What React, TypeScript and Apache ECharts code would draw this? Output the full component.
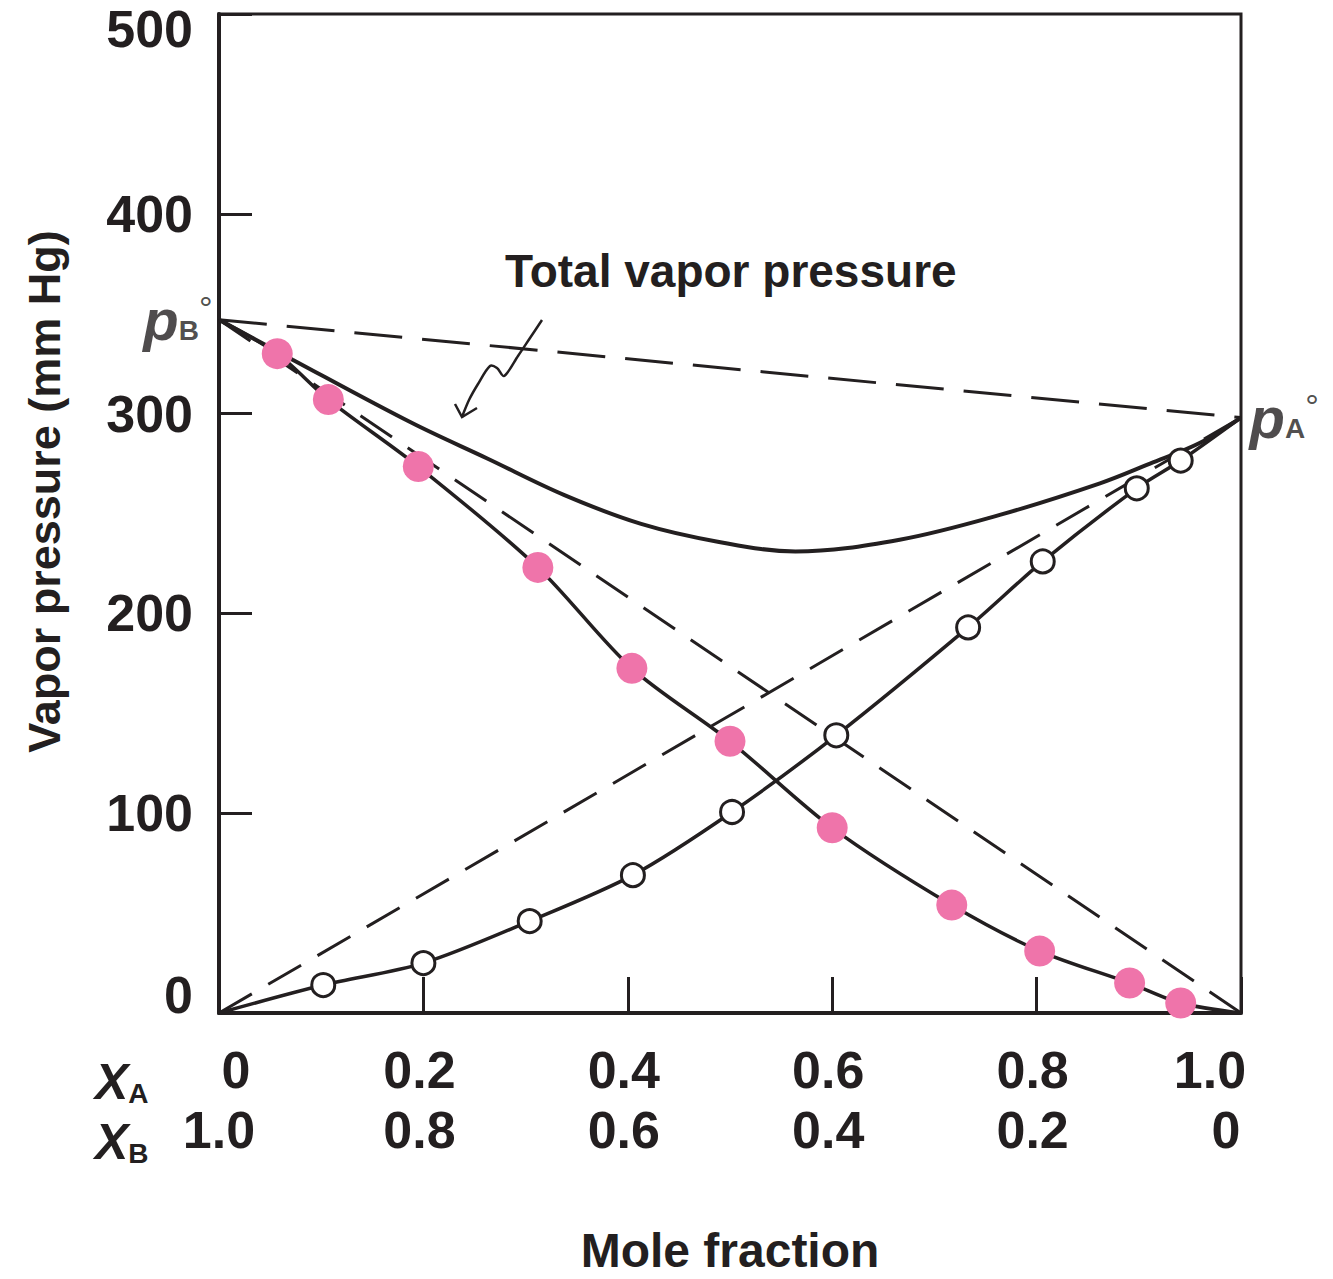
import React, { useEffect, useRef } from "react";
import * as echarts from "echarts";

// ---- data ----
const pBPure = 347; // vapor pressure of pure B (X_A = 0)
const pAPure = 298; // vapor pressure of pure A (X_A = 1)

const pinkX = [0.057, 0.107, 0.195, 0.312, 0.404, 0.5, 0.6, 0.717, 0.803, 0.891, 0.941];
const pinkY = [330, 307, 273.5, 223, 172.5, 136, 92.7, 54, 31, 15, 5];

const openX = [0.102, 0.2, 0.304, 0.405, 0.502, 0.604, 0.733, 0.806, 0.898, 0.941];
const openY = [14, 25, 46, 69, 100.6, 139, 193, 226, 262.6, 276.5];

const totalX = [0, 0.072, 0.188, 0.263, 0.338, 0.413, 0.488, 0.564, 0.666, 0.764, 0.862, 0.911, 0.96, 1];
const totalY = [347, 327, 295.5, 277.4, 259.2, 244.8, 235.9, 231, 236.9, 249.3, 265.1, 275, 285.4, 298];

const xTicks = [0, 0.2, 0.4, 0.6, 0.8, 1.0];
const xALabels = ["0", "0.2", "0.4", "0.6", "0.8", "1.0"];
const xBLabels = ["1.0", "0.8", "0.6", "0.4", "0.2", "0"];
const yTicks = [0, 100, 200, 300, 400, 500];
const yLabels = ["0", "100", "200", "300", "400", "500"];

const INK = "#231f20";
const PINK = "#ef74aa";
const FONT = "Liberation Sans, Arial, sans-serif";

function idx(arr: number[], v: number) {
  let best = 0;
  for (let i = 0; i < arr.length; i++) if (Math.abs(arr[i] - v) < Math.abs(arr[best] - v)) best = i;
  return best;
}

export default function App() {
  const ref = useRef<HTMLDivElement>(null);
  useEffect(() => {
    if (!ref.current) return;
    const chart = echarts.init(ref.current, null, { renderer: "svg" });

    const labelBase = { fontSize: 52, fontWeight: "bold" as const, color: INK, fontFamily: FONT };

    const pinkData = pinkX.map((x, i) => [x, pinkY[i]]);
    const openData = openX.map((x, i) => [x, openY[i]]);
    const pBCurve = [[0, pBPure], ...pinkData, [1, 0]];
    const pACurve = [[0, 0], ...openData, [1, pAPure]];
    const totalCurve = totalX.map((x, i) => [x, totalY[i]]);

    const pRich = {
      p: { fontSize: 58, fontStyle: "italic", fontWeight: "bold", color: INK, fontFamily: FONT },
      s: { fontSize: 28, fontWeight: "bold", color: INK, fontFamily: FONT, verticalAlign: "bottom", padding: [0, 0, 4, 0] },
      d: { fontSize: 34, color: INK, fontFamily: FONT, verticalAlign: "top" },
    };

    const option: any = {
      animation: false,
      backgroundColor: "#ffffff",
      grid: {
        left: 219,
        top: 14,
        width: 1022,
        height: 1009,
        show: true,
        borderColor: INK,
        borderWidth: 3,
        backgroundColor: "transparent",
      },
      xAxis: [
        {
          type: "value",
          min: 0,
          max: 1,
          interval: 0.2,
          position: "bottom",
          axisLine: { show: true, lineStyle: { color: INK, width: 4 } },
          axisTick: { show: true, inside: true, length: 36, lineStyle: { color: INK, width: 3 } },
          splitLine: { show: false },
          axisLabel: {
            show: true,
            interval: 0,
            showMinLabel: true,
            showMaxLabel: true,
            margin: 31,
            ...labelBase,
            formatter: (v: number) => {
              const i = idx(xTicks, v);
              if (i === 0) return "{first|" + xALabels[i] + "}";
              if (i === xTicks.length - 1) return "{last|" + xALabels[i] + "}";
              return "{n|" + xALabels[i] + "}";
            },
            rich: {
              n: { ...labelBase, padding: [0, 8, 0, 0] },
              first: { ...labelBase, padding: [0, 0, 0, 34] },
              last: { ...labelBase, padding: [0, 62, 0, 0] },
            },
          },
        },
        {
          type: "value",
          min: 0,
          max: 1,
          interval: 0.2,
          position: "bottom",
          offset: 60,
          axisLine: { show: false },
          axisTick: { show: false },
          splitLine: { show: false },
          name: "Mole fraction",
          nameLocation: "middle",
          nameGap: 153,
          nameTextStyle: { fontSize: 48, fontWeight: "bold", color: INK, fontFamily: FONT },
          axisLabel: {
            show: true,
            interval: 0,
            showMinLabel: true,
            showMaxLabel: true,
            margin: 31,
            ...labelBase,
            formatter: (v: number) => {
              const i = idx(xTicks, v);
              if (i === 0) return "{first|" + xBLabels[i] + "}";
              if (i === xTicks.length - 1) return "{last|" + xBLabels[i] + "}";
              return "{n|" + xBLabels[i] + "}";
            },
            rich: {
              n: { ...labelBase, padding: [0, 8, 0, 0] },
              first: { ...labelBase },
              last: { ...labelBase, padding: [0, 30, 0, 0] },
            },
          },
        },
      ],
      yAxis: {
        type: "value",
        min: 0,
        max: 500,
        interval: 100,
        axisLine: { show: true, lineStyle: { color: INK, width: 4 } },
        axisTick: { show: true, inside: true, length: 33, lineStyle: { color: INK, width: 3 } },
        splitLine: { show: false },
        name: "Vapor pressure (mm Hg)",
        nameLocation: "middle",
        nameRotate: 90,
        nameGap: 152,
        nameTextStyle: { fontSize: 45, fontWeight: "bold", color: INK, fontFamily: FONT, padding: [0, 0, 0, 44] },
        axisLabel: {
          show: true,
          margin: 26,
          verticalAlignMinLabel: "bottom",
          verticalAlignMaxLabel: "top",
          ...labelBase,
          formatter: (v: number) => {
            const i = idx(yTicks, v);
            if (i === 0) return "{bot|" + yLabels[i] + "}";
            if (i === yTicks.length - 1) return "{top|" + yLabels[i] + "}";
            return "{n|" + yLabels[i] + "}";
          },
          rich: {
            n: { ...labelBase },
            bot: { ...labelBase, lineHeight: 36 },
            top: { ...labelBase, lineHeight: 30 },
          },
        },
      },
      graphic: [
        {
          type: "text",
          left: 505,
          top: 248,
          style: { text: "Total vapor pressure", fontSize: 46, fontWeight: "bold", fill: INK, fontFamily: FONT },
        },
        {
          type: "polyline",
          shape: {
            points: [
              [542, 320],
              [530, 338],
              [518, 356],
              [504, 376],
              [497, 368],
              [490, 366],
              [478, 384],
              [469, 400],
              [462, 417],
            ],
            smooth: 0.3,
          },
          style: { stroke: INK, lineWidth: 2.5, fill: "none" },
        },
        {
          type: "polyline",
          shape: { points: [[455, 404], [462, 417], [477, 408]] },
          style: { stroke: INK, lineWidth: 2.5, fill: "none" },
        },
        {
          type: "text",
          left: 95,
          top: 1057,
          style: {
            text: "{x|X}{s|A}",
            rich: {
              x: { fontSize: 50, fontStyle: "italic", fontWeight: "bold", fill: INK, fontFamily: FONT },
              s: { fontSize: 28, fontWeight: "bold", fill: INK, fontFamily: FONT, verticalAlign: "bottom" },
            },
          },
        },
        {
          type: "text",
          left: 95,
          top: 1117,
          style: {
            text: "{x|X}{s|B}",
            rich: {
              x: { fontSize: 50, fontStyle: "italic", fontWeight: "bold", fill: INK, fontFamily: FONT },
              s: { fontSize: 28, fontWeight: "bold", fill: INK, fontFamily: FONT, verticalAlign: "bottom" },
            },
          },
        },
      ],
      series: [
        {
          type: "line",
          data: [
            [0, pBPure],
            [1, 0],
          ],
          symbol: "none",
          lineStyle: { color: INK, width: 3, type: [38, 19] },
          z: 2,
        },
        {
          type: "line",
          data: [
            [0, 0],
            [1, pAPure],
          ],
          symbol: "none",
          lineStyle: { color: INK, width: 3, type: [38, 19] },
          z: 2,
        },
        {
          type: "line",
          data: [
            [0, pBPure],
            [1, pAPure],
          ],
          symbol: "none",
          lineStyle: { color: INK, width: 3, type: [48, 20] },
          z: 2,
        },
        {
          type: "line",
          data: pBCurve,
          smooth: 0.3,
          showSymbol: false,
          symbol: "none",
          lineStyle: { color: INK, width: 3.5 },
          z: 3,
        },
        {
          type: "line",
          data: pACurve,
          smooth: 0.3,
          showSymbol: false,
          symbol: "none",
          lineStyle: { color: INK, width: 3.5 },
          z: 3,
        },
        {
          type: "line",
          data: totalCurve,
          smooth: 0.35,
          showSymbol: false,
          symbol: "none",
          lineStyle: { color: INK, width: 4 },
          z: 3,
        },
        {
          type: "scatter",
          data: pinkData,
          symbol: "circle",
          symbolSize: 31,
          itemStyle: { color: PINK, opacity: 1 },
          z: 5,
        },
        {
          type: "scatter",
          data: openData,
          symbol: "circle",
          symbolSize: 23,
          itemStyle: { color: "#ffffff", borderColor: INK, borderWidth: 3, opacity: 1 },
          z: 5,
        },
        {
          type: "scatter",
          clip: false,
          symbol: "circle",
          symbolSize: 1,
          itemStyle: { color: "rgba(0,0,0,0)" },
          silent: true,
          z: 6,
          data: [
            {
              value: [0, pBPure],
              label: { show: true, position: "left", distance: 6, formatter: "{p|p}{s|B}{d|°}", rich: pRich },
            },
            {
              value: [1, pAPure],
              label: { show: true, position: "right", distance: 8, formatter: "{p|p}{s|A}{d|°}", rich: pRich },
            },
          ],
        },
      ],
    };

    chart.setOption(option);
    return () => chart.dispose();
  }, []);

  return (
    <div
      ref={ref}
      style={{ position: "absolute", left: 0, top: 0, width: 1333, height: 1279, background: "#fff" }}
    />
  );
}
